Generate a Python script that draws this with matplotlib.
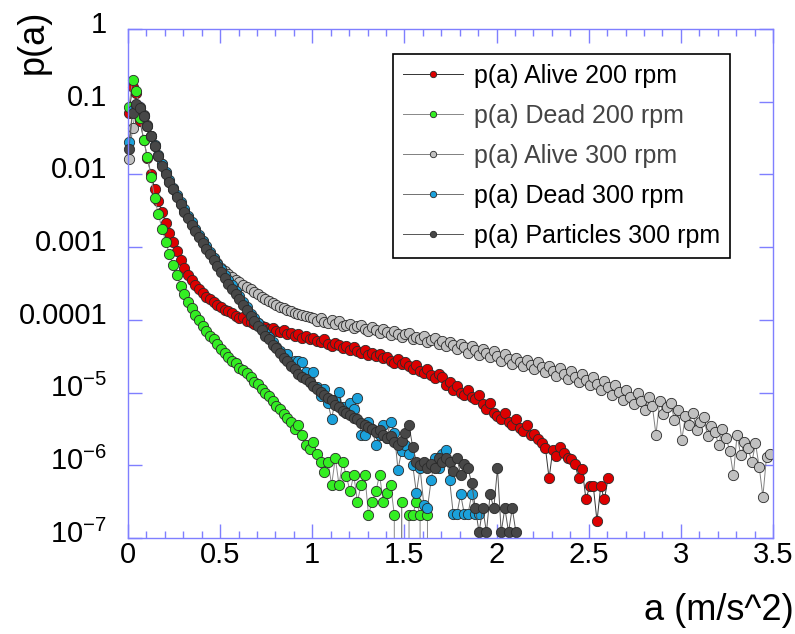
import numpy as np
import matplotlib.pyplot as plt
from matplotlib.ticker import FixedLocator, FixedFormatter, MultipleLocator, NullLocator
from matplotlib.transforms import ScaledTranslation, Bbox, TransformedBbox

plt.rcParams['font.family'] = ['Liberation Sans', 'DejaVu Sans']
plt.rcParams['mathtext.fontset'] = 'custom'
plt.rcParams['mathtext.rm'] = 'Liberation Sans'
plt.rcParams['mathtext.it'] = 'Liberation Sans:italic'
plt.rcParams['mathtext.default'] = 'regular'

# bins of acceleration a (m/s^2): first bin centre and bin width
a_start = 0.005
a_step = 0.02

# log10 p(a), one value per bin; None = empty bin
alive200_log = [
    -1.15, -0.80, -0.88, -1.27, -1.52, -1.77, -2.00, -2.20, -2.37, -2.52,
    -2.67, -2.81, -2.93, -3.05, -3.18, -3.29, -3.38, -3.45, -3.52, -3.58,
    -3.63, -3.68, -3.72, -3.76, -3.79, -3.83, -3.86, -3.88, -3.91, -3.95,
    -3.97, -3.96, -4.01, -4.03, -4.06, -4.05, -4.09, -4.10, -4.12, -4.11,
    -4.15, -4.17, -4.14, -4.20, -4.18, -4.22, -4.19, -4.25, -4.22, -4.27,
    -4.25, -4.29, -4.31, -4.27, -4.33, -4.36, -4.32, -4.35, -4.39, -4.36,
    -4.41, -4.38, -4.43, -4.46, -4.42, -4.48, -4.45, -4.50, -4.47, -4.53,
    -4.51, -4.56, -4.59, -4.54, -4.61, -4.58, -4.64, -4.68, -4.62, -4.70,
    -4.73, -4.67, -4.76, -4.80, -4.74, -4.78, -4.90, -4.85, -4.96, -4.91,
    -5.01, -5.04, -4.97, -5.06, -5.09, -5.03, -5.16, -5.22, -5.14, -5.28,
    -5.32, -5.36, -5.28, -5.40, -5.44, -5.37, -5.49, -5.53, -5.45, -5.58,
    -5.57, -5.64, -5.70, -5.76, -6.18, -5.79, -5.87, -5.75, -5.83, -5.90,
    -5.92, -5.98, -6.18, -6.05, -6.47, -6.29, -6.29, -6.77, -6.29, -6.47,
    -6.18,
]

dead200_log = [
    -1.07, -0.70, -0.85, -1.22, -1.52, -1.76, -2.03, -2.33, -2.55, -2.75,
    -2.93, -3.10, -3.25, -3.38, -3.53, -3.64, -3.75, -3.84, -3.93, -4.00,
    -4.09, -4.16, -4.22, -4.27, -4.33, -4.40, -4.45, -4.51, -4.56, -4.60,
    -4.66, -4.69, -4.73, -4.79, -4.85, -4.88, -4.95, -5.00, -5.05, -5.12,
    -5.18, -5.22, -5.30, -5.35, -5.40, -5.50, -5.45, -5.58, -5.72, -5.77,
    -5.68, -5.85, -5.95, -6.09, -5.95, -6.27, -5.90, -6.27, -5.95, -6.15,
    -6.36, -6.13, -6.50, -6.27, -6.13, -6.68, -6.50, -6.36, -6.13, -6.50,
    -6.38, -6.27, -6.68, None, -6.50, None, -6.68, -6.68, -6.50, -6.68,
    None, -6.68,
]

alive300_log = [
    -1.79, -1.36, -1.08, -1.07, -1.18, -1.32, -1.47, -1.61, -1.74, -1.86,
    -1.98, -2.10, -2.20, -2.30, -2.40, -2.50, -2.59, -2.68, -2.76, -2.84,
    -2.92, -3.00, -3.08, -3.15, -3.22, -3.28, -3.33, -3.37, -3.41, -3.45,
    -3.48, -3.52, -3.55, -3.58, -3.62, -3.65, -3.69, -3.71, -3.74, -3.77,
    -3.79, -3.82, -3.84, -3.86, -3.88, -3.90, -3.92, -3.93, -3.95, -3.96,
    -3.98, -4.01, -3.97, -4.03, -4.04, -4.00, -4.06, -4.02, -4.08, -4.07,
    -4.06, -4.11, -4.09, -4.07, -4.13, -4.15, -4.10, -4.14, -4.18, -4.13,
    -4.17, -4.21, -4.15, -4.19, -4.24, -4.20, -4.18, -4.26, -4.23, -4.27,
    -4.22, -4.30, -4.28, -4.25, -4.33, -4.29, -4.36, -4.31, -4.34, -4.40,
    -4.33, -4.38, -4.45, -4.36, -4.42, -4.48, -4.40, -4.46, -4.51, -4.43,
    -4.50, -4.56, -4.47, -4.54, -4.61, -4.52, -4.58, -4.64, -4.55, -4.62,
    -4.68, -4.58, -4.65, -4.72, -4.63, -4.70, -4.77, -4.66, -4.74, -4.81,
    -4.71, -4.78, -4.86, -4.75, -4.83, -4.90, -4.79, -4.88, -4.97, -4.84,
    -4.93, -5.03, -4.90, -4.99, -5.10, -4.96, -5.06, -5.16, -5.00, -5.12,
    -5.24, -5.06, -5.18, -5.58, -5.12, -5.30, -5.20, -5.14, -5.38, -5.24,
    -5.65, -5.32, -5.44, -5.28, -5.52, -5.40, -5.34, -5.60, -5.46, -5.54,
    -5.72, -5.50, -5.62, -5.80, -6.13, -5.58, -5.86, -5.68, -5.76, -5.96,
    -5.70, -6.02, -6.43, -5.88, -5.84,
]

dead300_log = [
    -1.55, -1.12, -1.04, -1.09, -1.20, -1.34, -1.47, -1.60, -1.73, -1.86,
    -1.97, -2.08, -2.18, -2.28, -2.38, -2.48, -2.57, -2.66, -2.75, -2.83,
    -2.91, -2.99, -3.07, -3.15, -3.23, -3.30, -3.38, -3.45, -3.52, -3.60,
    -3.67, -3.76, -3.83, -3.92, -3.97, -4.05, -4.12, -4.18, -4.24, -4.30,
    -4.38, -4.43, -4.49, -4.47, -4.62, -4.57, -4.56, -4.58, -4.72, -4.85,
    -4.72, -4.92, -5.05, -4.95, -5.15, -5.36, -5.10, -4.99, -5.20, -5.28,
    -5.15, -5.22, -5.08, -5.58, -5.58, -5.40, -5.50, -5.72, -5.58, -5.45,
    -5.62, -5.40, -5.55, -6.06, -5.80, -5.72, -5.85, -6.00, -6.38, -6.04,
    -6.54, -6.59, -6.20, -5.90, -6.04, -5.85, -5.79, -6.20, -6.67, -6.67,
    -6.40, -6.67, -6.67, -6.40, -6.67, -6.67,
]

particles300_log = [
    -1.65, -1.15, -1.03, -1.08, -1.19, -1.33, -1.47, -1.61, -1.75, -1.88,
    -1.99, -2.10, -2.20, -2.31, -2.41, -2.51, -2.60, -2.69, -2.78, -2.86,
    -2.94, -3.02, -3.10, -3.18, -3.26, -3.34, -3.42, -3.50, -3.57, -3.64,
    -3.72, -3.79, -3.87, -3.95, -4.01, -4.08, -4.14, -4.22, -4.27, -4.34,
    -4.39, -4.45, -4.52, -4.56, -4.63, -4.68, -4.74, -4.78, -4.82, -4.86,
    -4.91, -4.95, -4.99, -5.03, -5.08, -5.10, -5.17, -5.20, -5.25, -5.28,
    -5.31, -5.35, -5.37, -5.42, -5.45, -5.47, -5.50, -5.54, -5.52, -5.58,
    -5.62, -5.60, -5.68, -5.72, -5.66, -5.55, -5.45, -5.75, -5.95, -6.00,
    -5.95, -6.04, -5.98, -6.04, -5.90, -5.95, -5.90, -5.95, -6.08, -5.90,
    -6.13, -5.98, -6.04, -6.25, -6.59, -6.92, -6.59, -6.92, -6.40, -6.59,
    -6.04, -6.92, -6.59, -6.92, -6.59, -6.92,
]

labels = ['p(a) Alive 200 rpm', 'p(a) Dead 200 rpm', 'p(a) Alive 300 rpm',
          'p(a) Dead 300 rpm', 'p(a) Particles 300 rpm']
all_logs = [alive200_log, dead200_log, alive300_log, dead300_log, particles300_log]
face_colors = ['#dd0000', '#33ee22', '#c0c0c0', '#1ba1db', '#474747']
line_colors = ['#333333', '#888888', '#808080', '#707070', '#555555']
text_colors = ['#000000', '#444444', '#444444', '#000000', '#000000']

ytick_vals = [1e-7, 1e-6, 1e-5, 1e-4, 1e-3, 1e-2, 1e-1, 1]
ytick_labels = ['$10^{-7}$', '$10^{-6}$', '$10^{-5}$', '0.0001', '0.001', '0.01', '0.1', '1']
xtick_vals = [0, 0.5, 1, 1.5, 2, 2.5, 3, 3.5]
xtick_labels = ['0', '0.5', '1', '1.5', '2', '2.5', '3', '3.5']

frame_blue = '#7f7fff'

fig = plt.figure(figsize=(7.95, 6.34), dpi=100)
ax = fig.add_axes([128 / 795, 96 / 634, 645 / 795, 509 / 634])

# markers on the left edge are not cut in the original, the bottom edge still clips
clip = TransformedBbox(Bbox([[-0.02, 0.0], [1.0, 1.0]]), ax.transAxes)
for lab, logs, fc, lc in zip(labels, all_logs, face_colors, line_colors):
    p = np.array([0.0 if v is None else 10.0 ** v for v in logs])
    a = a_start + a_step * np.arange(len(p))
    ln, = ax.plot(a, p, '-o', color=lc, lw=0.7, mfc=fc, mec='#2a2a2a', mew=0.6,
                  ms=7.4, label=lab)
    ln.set_clip_path(None)
    ln.set_clip_box(clip)

ax.set_yscale('log', nonpositive='clip')
ax.set_xlim(0, 3.5)
ax.set_ylim(1e-7, 1)

ax.yaxis.set_major_locator(FixedLocator(ytick_vals))
ax.yaxis.set_major_formatter(FixedFormatter(ytick_labels))
ax.yaxis.set_minor_locator(NullLocator())
ax.xaxis.set_major_locator(FixedLocator(xtick_vals))
ax.xaxis.set_major_formatter(FixedFormatter(xtick_labels))
ax.xaxis.set_minor_locator(MultipleLocator(0.1))

ax.tick_params(which='both', direction='in', top=True, right=True,
               color=frame_blue, labelsize=21)
ax.tick_params(which='major', length=10, width=1)
ax.tick_params(which='minor', length=5, width=1)
ax.tick_params(axis='y', pad=15)
ax.tick_params(axis='x', pad=2)
for sp in ax.spines.values():
    sp.set_color(frame_blue)
    sp.set_linewidth(1.0)

# y labels sit a little above their ticks in the original
shift = ScaledTranslation(0, 7 / 100, fig.dpi_scale_trans)
for t in ax.get_yticklabels():
    t.set_transform(t.get_transform() + shift)

fig.text(33 / 795, 1 - 42 / 634, 'p(a)', rotation=90, ha='center', va='center',
         fontsize=26)
fig.text(0.998, 1 - 610 / 634, 'a (m/s^2)', ha='right', va='center', fontsize=26)

leg = ax.legend(loc='upper left', bbox_to_anchor=(393 / 795, 1 - 54 / 634),
                bbox_transform=fig.transFigure, fontsize=18, fancybox=False,
                edgecolor='black', framealpha=1, handlelength=2.4,
                handletextpad=0.45, borderpad=0.4, labelspacing=0.64,
                markerscale=0.62, borderaxespad=0)
leg.get_frame().set_linewidth(1.2)
for t, c in zip(leg.get_texts(), text_colors):
    t.set_color(c)

fig.savefig('out.png', dpi=100)
